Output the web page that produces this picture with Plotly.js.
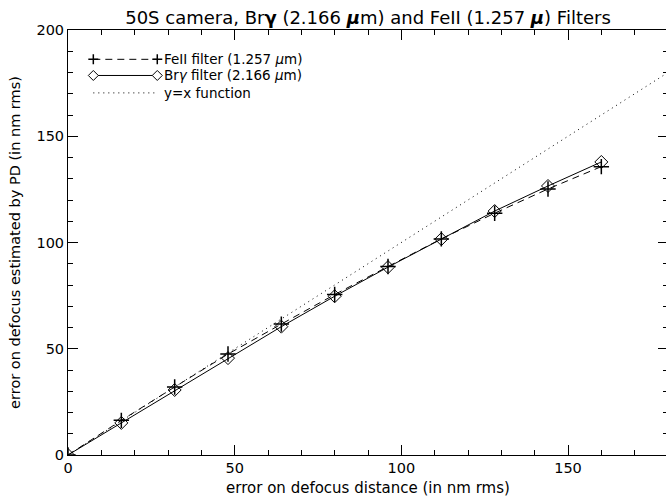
<!DOCTYPE html>
<html>
<head>
<meta charset="utf-8">
<script src="https://cdn.plot.ly/plotly-3.0.1.min.js"></script>
<style>
html,body{margin:0;padding:0;overflow:hidden;background:#fff;}
#chart{width:668px;height:504px;}
</style>
</head>
<body>
<div id="chart"></div>
<script>
// Data
const defocusX = [0, 16, 32, 48, 64, 80, 96, 112, 128, 144, 160];
const feIIEstimate = [0, 16.3, 32.0, 47.5, 61.6, 75.5, 88.7, 101.7, 113.8, 125.2, 135.7];
const brGammaEstimate = [0, 15.1, 30.6, 45.6, 60.4, 74.7, 88.4, 101.6, 114.8, 126.6, 137.9];
const identityX = [0, 180];
const identityY = [0, 180];

const legendLabels = ["FeII filter (1.257 <i>μ</i>m)", "Br<i>γ</i> filter (2.166 <i>μ</i>m)", "y=x function"];
const xTickVals = [0, 50, 100, 150];
const yTickVals = [0, 50, 100, 150, 200];

const FONT = "DejaVu Sans, sans-serif";

const traces = [
  {
    x: defocusX, y: feIIEstimate, mode: "lines+markers", name: legendLabels[0],
    line: {color: "black", width: 1, dash: "7px,5px"},
    marker: {symbol: "cross-thin-open", size: 11, line: {color: "black", width: 1.5}},
    showlegend: false
  },
  {
    x: defocusX, y: brGammaEstimate, mode: "lines+markers", name: legendLabels[1],
    line: {color: "black", width: 1},
    marker: {symbol: "diamond-open", size: 10, color: "black", line: {color: "black", width: 1}},
    showlegend: false
  },
  {
    x: identityX, y: identityY, mode: "lines", name: legendLabels[2],
    line: {color: "black", width: 1, dash: "1px,4px"},
    showlegend: false
  }
];

// Custom legend (IDL style: markers at both ends of the sample line)
const legRows = [0.931, 0.893, 0.852];
const legX0 = 0.0422, legX1 = 0.1488, legTextX = 0.1590;
const shapes = [];
const annotations = [];
legRows.forEach((ry, i) => {
  shapes.push({type: "line", xref: "paper", yref: "paper", x0: legX0, x1: legX1, y0: ry, y1: ry,
    line: {color: "black", width: 1, dash: i === 0 ? "7px,5px" : (i === 2 ? "1px,4px" : "solid")}});
  annotations.push({xref: "paper", yref: "paper", x: legTextX, y: ry, xanchor: "left", yanchor: "middle",
    text: legendLabels[i], showarrow: false, borderpad: 0,
    font: {family: FONT, size: 13.5, color: "black"}});
  if (i < 2) {
    [legX0, legX1].forEach(px => {
      const path = i === 0 ? "M-5,0H5M0,-5V5" : "M-5,0L0,5L5,0L0,-5Z";
      shapes.push({type: "path", xref: "paper", yref: "paper", xsizemode: "pixel", ysizemode: "pixel",
        xanchor: px, yanchor: ry, path: path, fillcolor: "white",
        line: {color: "black", width: i === 0 ? 1.5 : 1}});
    });
  }
});

const axisCommon = {
  showgrid: false, zeroline: false, showline: true, linecolor: "black", linewidth: 1,
  mirror: "allticks", ticks: "inside", ticklen: 10, tickwidth: 1, tickcolor: "black",
  minor: {dtick: 10, ticks: "inside", ticklen: 5, tickwidth: 1, tickcolor: "black"},
  tickfont: {family: FONT, size: 14.5, color: "black"}
};

const layout = {
  width: 668, height: 504,
  margin: {l: 68, r: 0, t: 30, b: 49},
  paper_bgcolor: "white", plot_bgcolor: "white",
  showlegend: false,
  title: {text: "50S camera, Br<b>γ</b> (2.166 <b><i>μ</i></b>m) and FeII (1.257 <b><i>μ</i></b>) Filters",
    font: {family: FONT, size: 18, color: "black"}, x: 0.5, xref: "paper", xanchor: "center",
    y: 0.964, yref: "container", yanchor: "middle"},
  xaxis: Object.assign({}, axisCommon, {
    range: [0, 180], tickvals: xTickVals, ticktext: xTickVals.map(String),
    title: {text: "error on defocus distance (in nm rms)", font: {family: FONT, size: 15, color: "black"}, standoff: 7}
  }),
  yaxis: Object.assign({}, axisCommon, {
    range: [0, 200], tickvals: yTickVals, ticktext: yTickVals.map(String),
    title: {text: "error on defocus estimated by PD (in nm rms)", font: {family: FONT, size: 14.5, color: "black"}, standoff: 12}
  }),
  shapes: shapes,
  annotations: annotations
};

Plotly.newPlot("chart", traces, layout, {displayModeBar: false, staticPlot: true});
</script>
</body>
</html>
